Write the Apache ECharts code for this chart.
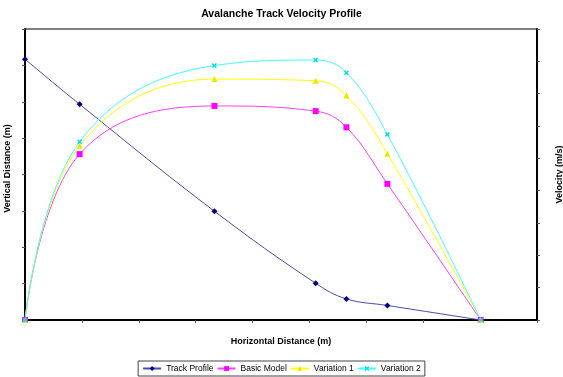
<!DOCTYPE html>
<html><head><meta charset="utf-8">
<script src="https://cdn.jsdelivr.net/npm/echarts@6/dist/echarts.min.js"></script>
<style>html,body{margin:0;padding:0;background:#fff}#c{width:563px;height:377px}</style>
</head><body><div id="c"></div>
<script>
var xPoints = [0, 96, 333, 511, 565, 637, 801];
var trackProfile = [717, 593, 299, 101, 58, 40, 0];
var basicModel = [0, 51.3, 66.2, 64.6, 59.6, 42.1, 0];
var variation1 = [0, 53.8, 74.5, 74.0, 69.4, 51.4, 0];
var variation2 = [0, 55.1, 78.7, 80.4, 76.5, 57.4, 0];
var seriesNames = ['Track Profile', 'Basic Model', 'Variation 1', 'Variation 2'];

function pairs(ys){ return xPoints.map(function(x,i){ return [x, ys[i]]; }); }
var font = 'Liberation Sans, Arial, sans-serif';
var crossPath = 'path://M0,2L2,0L5,3L8,0L10,2L7,5L10,8L8,10L5,7L2,10L0,8L3,5Z';

var chart = echarts.init(document.getElementById('c'));
chart.setOption({
  animation: false,
  backgroundColor: '#fff',
  title: { text: 'Avalanche Track Velocity Profile', left: 'center', top: 4,
    textStyle: { fontFamily: font, fontSize: 10.5, fontWeight: 'bold', color: '#000' } },
  grid: { left: 25, right: 26, top: 29, bottom: 57, show: true, borderColor: '#000', borderWidth: 1,
    outerBoundsMode: 'none', containLabel: false },
  legend: {
    bottom: 1, left: 'center', data: seriesNames,
    borderColor: '#444', borderWidth: 1, padding: [3, 4], itemGap: 3,
    itemWidth: 18, itemHeight: 6,
    textStyle: { fontFamily: font, fontSize: 8.5, color: '#000' }
  },
  xAxis: {
    type: 'value', min: 0, max: 900, interval: 100,
    name: 'Horizontal Distance (m)', nameLocation: 'middle', nameGap: 17,
    nameTextStyle: { fontFamily: font, fontSize: 9, fontWeight: 'bold', color: '#000' },
    axisLine: { show: true, lineStyle: { color: '#000', width: 2 } },
    axisTick: { show: true, length: 3, lineStyle: { color: '#555' } },
    axisLabel: { show: false }, splitLine: { show: false }
  },
  yAxis: [{
    type: 'value', min: 0, max: 800, interval: 100,
    name: 'Vertical Distance (m)', nameLocation: 'middle', nameGap: 13, nameRotate: 90,
    nameTextStyle: { fontFamily: font, fontSize: 9, fontWeight: 'bold', color: '#000', padding: [0, 0, 0, 12] },
    axisLine: { show: true, lineStyle: { color: '#000', width: 2 } },
    axisTick: { show: true, length: 3, lineStyle: { color: '#555' } },
    axisLabel: { show: false }, splitLine: { show: false }
  }, {
    type: 'value', min: 0, max: 90, interval: 10, position: 'right',
    name: 'Velocity (m/s)', nameLocation: 'middle', nameGap: 18, nameRotate: 90,
    nameTextStyle: { fontFamily: font, fontSize: 9, fontWeight: 'bold', color: '#000' },
    axisLine: { show: true, lineStyle: { color: '#000', width: 2 } },
    axisTick: { show: true, length: 3, lineStyle: { color: '#555' } },
    axisLabel: { show: false }, splitLine: { show: false }
  }],
  series: [
    { name: seriesNames[0], type: 'line', yAxisIndex: 0, data: pairs(trackProfile), smooth: 0.4,
      symbol: 'diamond', symbolSize: 6, color: '#000080',
      lineStyle: { color: '#4a4aa8', width: 1 }, itemStyle: { color: '#000080' } },
    { name: seriesNames[1], type: 'line', yAxisIndex: 1, data: pairs(basicModel), smooth: 0.4,
      symbol: 'rect', symbolSize: 6, color: '#ff00ff',
      lineStyle: { color: '#ff40ff', width: 1 }, itemStyle: { color: '#ff00ff' } },
    { name: seriesNames[2], type: 'line', yAxisIndex: 1, data: pairs(variation1), smooth: 0.4,
      symbol: 'triangle', symbolSize: 6, color: '#ffff00',
      lineStyle: { color: '#ffff00', width: 1 }, itemStyle: { color: '#e8e800' } },
    { name: seriesNames[3], type: 'line', yAxisIndex: 1, data: pairs(variation2), smooth: 0.4,
      symbol: crossPath, symbolSize: 5, color: '#00ffff',
      lineStyle: { color: '#40ffff', width: 1 }, itemStyle: { color: '#00e0e0' } }
  ]
});
</script>
</body></html>
